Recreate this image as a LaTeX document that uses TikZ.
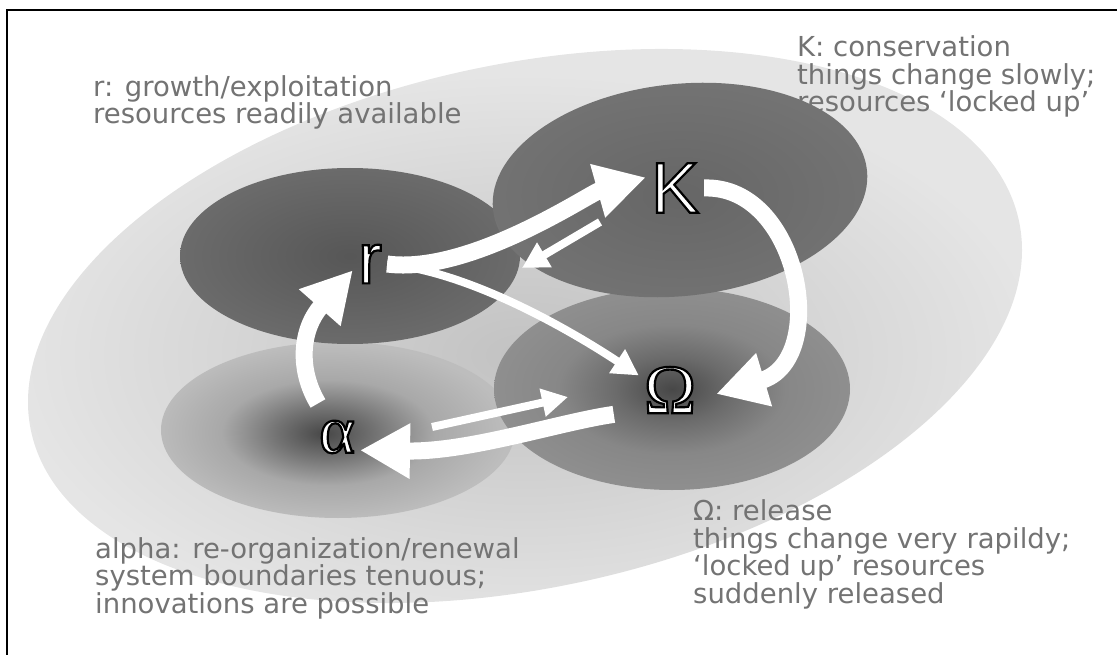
\documentclass[tikz,border=0pt]{standalone}
\usepackage{fontspec}
\usepackage{xcolor}
\usepackage{tikz}
\usetikzlibrary{arrows.meta,positioning}

\newfontfamily\notefont{DejaVu Sans}
\newfontfamily\phasesans{Liberation Sans}
\newfontfamily\phaseserif{Liberation Serif}
% white letters with a black outline
\newcommand{\outlined}[1]{\special{pdf:literal direct 0 0 0 RG 2.2 w 2 Tr}#1\special{pdf:literal direct 0 Tr}}

% shadings for the phase blobs
\pgfdeclareradialshading{bigshade}{\pgfpointorigin}{color(0bp)=(black!24); color(25bp)=(black!10); color(50bp)=(black!10)}
\pgfdeclareradialshading{alphashade}{\pgfpoint{-2bp}{-1bp}}{color(0bp)=(black!72); color(7bp)=(black!55); color(15bp)=(black!34); color(25bp)=(black!26); color(50bp)=(black!26)}
\pgfdeclareradialshading{omegashade}{\pgfpointorigin}{color(0bp)=(black!72); color(8bp)=(black!58); color(16bp)=(black!47); color(25bp)=(black!44); color(50bp)=(black!44)}
\pgfdeclareradialshading{rshade}{\pgfpointorigin}{color(0bp)=(black!66); color(25bp)=(black!58); color(50bp)=(black!58)}
\pgfdeclareradialshading{kshade}{\pgfpointorigin}{color(0bp)=(black!60); color(25bp)=(black!55); color(50bp)=(black!55)}

\begin{document}
\begin{tikzpicture}[x=1pt, y=-1pt,
    note/.style={text=black!55, anchor=base west, align=left, inner sep=0pt,
                 font=\notefont\fontsize{27.5}{27.5}\selectfont},
    phase/.style={text=white, inner sep=5pt},
    fatarrow/.style={white, line width=17pt, -{Triangle[length=50pt,width=52pt]}},
    thinarrow/.style={white, line width=8pt, -{Triangle[length=26pt,width=27pt]}}]

    \useasboundingbox (0,0) rectangle (1117,655);

    % Frame
    \draw[line width=2pt] (1117,10) -- (7,10) -- (7,655);

    % Blobs
    \shade[shading=bigshade, rotate around={12:(525,326)}] (525,326) ellipse [x radius=505, y radius=262];
    \shade[shading=alphashade] (338,430) ellipse [x radius=177, y radius=88];
    \shade[shading=omegashade] (672,389) ellipse [x radius=178, y radius=101];
    \shade[shading=rshade] (350,256) ellipse [x radius=170, y radius=88];
    \shade[shading=kshade, rotate around={6:(680,190)}] (680,190) ellipse [x radius=188, y radius=106];

    % Phases
    \node[phase, font=\phasesans\fontsize{72}{72}\selectfont] (r) at (370,264) {\outlined{r}};
    \node[phase, font=\phasesans\fontsize{72}{72}\selectfont] (K) at (675,188) {\outlined{K}};
    \node[phase, font=\phaseserif\fontsize{70}{70}\selectfont] (Omega) at (670,390) {\outlined{Ω}};
    \node[phase, font=\phaseserif\fontsize{68}{68}\selectfont] (alpha) at (337,437) {\outlined{α}};

    % Draw connections
    \draw[fatarrow] (r.east) .. controls (470,275) and (590,193) .. (K.160);
    \draw[thinarrow] ([shift={(-75,34)}]K.center) -- ([shift={(152,4)}]r.center);
    \draw[thinarrow] (r.east) .. controls (470,272) and (570,330) .. (Omega.155);
    \draw[fatarrow] (K.east) .. controls (800,185) and (830,360) .. ([shift={(15,4)}]Omega.east);
    \draw[fatarrow] ([shift={(-25,-4)}]Omega.south west) .. controls (560,422) and (470,452) .. (alpha.-30);
    \draw[thinarrow] ([shift={(95,-10)}]alpha.center) -- ([shift={(-102,7)}]Omega.center);
    \draw[fatarrow] ([shift={(4,-12)}]alpha.north west) .. controls (298,370) and (300,330) .. (r.200);

    % Notes (base = last line)
    \node[note] (rnote) at (93,124) {r: growth/exploitation\\resources readily available};
    \node[note] (knote) at (797,112) {K: conservation\\things change slowly;\\resources ‘locked up’};
    \node[note] (omeganote) at (693,603) {Ω: release\\things change very rapildy;\\‘locked up’ resources\\suddenly released};
    \node[note] (alphanote) at (95,613) {alpha: re-organization/renewal\\system boundaries tenuous;\\innovations are possible};

\end{tikzpicture}
\end{document}
